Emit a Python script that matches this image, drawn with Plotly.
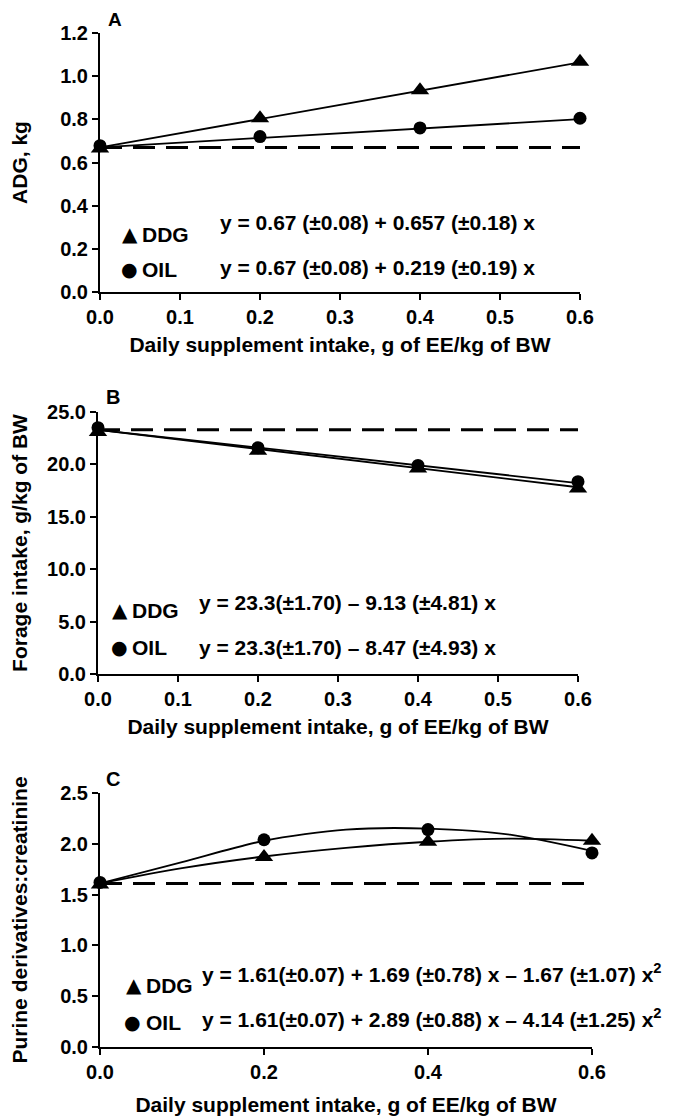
import plotly.graph_objects as go

# ---------------- data ----------------
x_levels = [0.0, 0.2, 0.4, 0.6]

# Panel A: ADG, kg
a_ddg = [0.665, 0.805, 0.935, 1.067]
a_oil = [0.678, 0.72, 0.76, 0.805]
a_fit_x = [0.0, 0.6]
a_ddg_fit = [0.67, 1.064]
a_oil_fit = [0.67, 0.801]
a_ctrl = [0.67, 0.67]

# Panel B: Forage intake, g/kg of BW
b_ddg = [23.1, 21.3, 19.6, 17.7]
b_oil = [23.5, 21.6, 19.9, 18.35]
b_fit_x = [0.0, 0.6]
b_ddg_fit = [23.3, 17.82]
b_oil_fit = [23.3, 18.22]
b_ctrl = [23.3, 23.3]

# Panel C: Purine derivatives:creatinine
c_ddg = [1.60, 1.87, 2.02, 2.03]
c_oil = [1.62, 2.04, 2.14, 1.91]
c_curve_x = [0.0, 0.1, 0.2, 0.3, 0.4, 0.5, 0.6]
c_ddg_curve = [1.61, 1.76, 1.875, 1.96, 2.02, 2.05, 2.03]
c_oil_curve = [1.61, 1.82, 2.03, 2.14, 2.15, 2.09, 1.93]
c_ctrl = [1.61, 1.61]

a_ticks = [0.0, 0.2, 0.4, 0.6, 0.8, 1.0, 1.2]
b_ticks = [0.0, 5.0, 10.0, 15.0, 20.0, 25.0]
c_ticks = [0.0, 0.5, 1.0, 1.5, 2.0, 2.5]
ab_xticks = [0.0, 0.1, 0.2, 0.3, 0.4, 0.5, 0.6]
c_xticks = [0.0, 0.2, 0.4, 0.6]

x_title = "Daily supplement intake, g of EE/kg of BW"
eq_a = ["y = 0.67 (±0.08) + 0.657 (±0.18) x", "y = 0.67 (±0.08) + 0.219 (±0.19) x"]
eq_b = ["y = 23.3(±1.70) – 9.13 (±4.81) x", "y = 23.3(±1.70) – 8.47 (±4.93) x"]
eq_c = ["y = 1.61(±0.07) + 1.69 (±0.78) x – 1.67 (±1.07) x<sup>2</sup>",
        "y = 1.61(±0.07) + 2.89 (±0.88) x – 4.14 (±1.25) x<sup>2</sup>"]

# ---------------- figure ----------------
OFF = 8  # page body margin
W, H = 674 - OFF, 1117 - OFF
FONT = "Liberation Sans, Arial, sans-serif"
GLYPH = "DejaVu Sans, Liberation Sans, sans-serif"
fig = go.Figure()


def px(v):
    return (v - OFF) / W


def py(v):
    return 1 - (v - OFF) / H


panels = [
    ("x", "y", a_fit_x, a_ddg_fit, a_oil_fit, a_ddg, a_oil, a_ctrl, "linear", a_fit_x),
    ("x2", "y2", b_fit_x, b_ddg_fit, b_oil_fit, b_ddg, b_oil, b_ctrl, "linear", b_fit_x),
    ("x3", "y3", c_curve_x, c_ddg_curve, c_oil_curve, c_ddg, c_oil, c_ctrl, "spline", [0.0, 0.6]),
]

for xa, ya, fx, fd, fo, pd_, po, ctrl, shape, cx in panels:
    fig.add_trace(go.Scatter(x=cx, y=ctrl, xaxis=xa, yaxis=ya, mode="lines",
                             line=dict(color="black", width=3, dash="22px,11px"),
                             showlegend=False, hoverinfo="skip", cliponaxis=False))
    fig.add_trace(go.Scatter(x=fx, y=fd, xaxis=xa, yaxis=ya, mode="lines",
                             line=dict(color="black", width=1.8, shape=shape, smoothing=0.8),
                             showlegend=False, cliponaxis=False))
    fig.add_trace(go.Scatter(x=fx, y=fo, xaxis=xa, yaxis=ya, mode="lines",
                             line=dict(color="black", width=1.8, shape=shape, smoothing=0.8),
                             showlegend=False, cliponaxis=False))
    fig.add_trace(go.Scatter(x=x_levels, y=pd_, xaxis=xa, yaxis=ya, mode="markers",
                             marker=dict(symbol="triangle-up", size=16, color="black"),
                             name="DDG", showlegend=False, cliponaxis=False))
    fig.add_trace(go.Scatter(x=x_levels, y=po, xaxis=xa, yaxis=ya, mode="markers",
                             marker=dict(symbol="circle", size=13, color="black"),
                             name="OIL", showlegend=False, cliponaxis=False))

tickfont = dict(family=FONT, size=20, color="black", weight="bold")
titlefont = dict(family=FONT, size=21, color="black", weight="bold")


def xaxis(domain, ticks, anchor, standoff):
    return dict(domain=domain, anchor=anchor, range=[0, 0.6], tickvals=ticks,
                tickformat=".1f", showline=True, linecolor="black", linewidth=2,
                ticks="outside", ticklen=6, tickwidth=2, tickcolor="black",
                showgrid=False, zeroline=False, tickfont=tickfont, ticklabelstandoff=0,
                title=dict(text=x_title, font=titlefont, standoff=standoff), automargin=False)


def yaxis(domain, ticks, anchor, rng, title, standoff):
    return dict(domain=domain, anchor=anchor, range=rng, tickvals=ticks,
                tickformat=".1f", showline=True, linecolor="black", linewidth=2,
                ticks="outside", ticklen=6, tickwidth=2, tickcolor="black",
                showgrid=False, zeroline=False, tickfont=tickfont,
                title=dict(text=title, font=titlefont, standoff=standoff), automargin=False)


fig.update_layout(
    width=W, height=H,
    margin=dict(l=0, r=0, t=0, b=0, pad=0),
    paper_bgcolor="white", plot_bgcolor="white",
    font=dict(family=FONT, color="black"),
    showlegend=False,
    xaxis=xaxis([px(100), px(580)], ab_xticks, "y", 10),
    yaxis=yaxis([py(292), py(33)], a_ticks, "x", [0, 1.2], "ADG, kg", 28),
    xaxis2=xaxis([px(98), px(578)], ab_xticks, "y2", 10),
    yaxis2=yaxis([py(674), py(412)], b_ticks, "x2", [0, 25], "Forage intake, g/kg of BW", 16),
    xaxis3=xaxis([px(100), px(592)], c_xticks, "y3", 15),
    yaxis3=yaxis([py(1047), py(793)], c_ticks, "x3", [0, 2.5], "Purine derivatives:creatinine", 30),
)


def ann(text, x, y, xanchor="left", size=21, family=FONT, yanchor="middle"):
    f = dict(family=family, size=size, color="black", weight="bold")
    fig.add_annotation(text=text, x=px(x), y=py(y), xref="paper", yref="paper",
                       xanchor=xanchor, yanchor=yanchor, showarrow=False, font=f,
                       borderpad=0)


# panel letters
ann("A", 115, 8, "center", 19, yanchor="top")
ann("B", 113, 397, "center", 20)
ann("C", 113, 779, "center", 20)

# legend glyphs, labels and equations
legend_rows = [
    # (tri_x, ddg_x, ddg_y, circ_x, oil_x, oil_y)
    (130, 141, 234, 129, 141, 269),
    (120, 131, 610, 119, 131, 647),
    (134, 145, 985, 133, 145, 1022),
]
for tx, dx, dy, cxp, ox, oy in legend_rows:
    ann("▲", tx, dy, "center", 20, GLYPH)
    ann("DDG", dx, dy)
    ann("●", cxp, oy, "center", 19, GLYPH)
    ann("OIL", ox, oy)

ann(eq_a[0], 219, 222)
ann(eq_a[1], 219, 267)
ann(eq_b[0], 198, 602)
ann(eq_b[1], 198, 647)
ann(eq_c[0], 201, 973)
ann(eq_c[1], 201, 1018)

fig.write_html("out.html")
